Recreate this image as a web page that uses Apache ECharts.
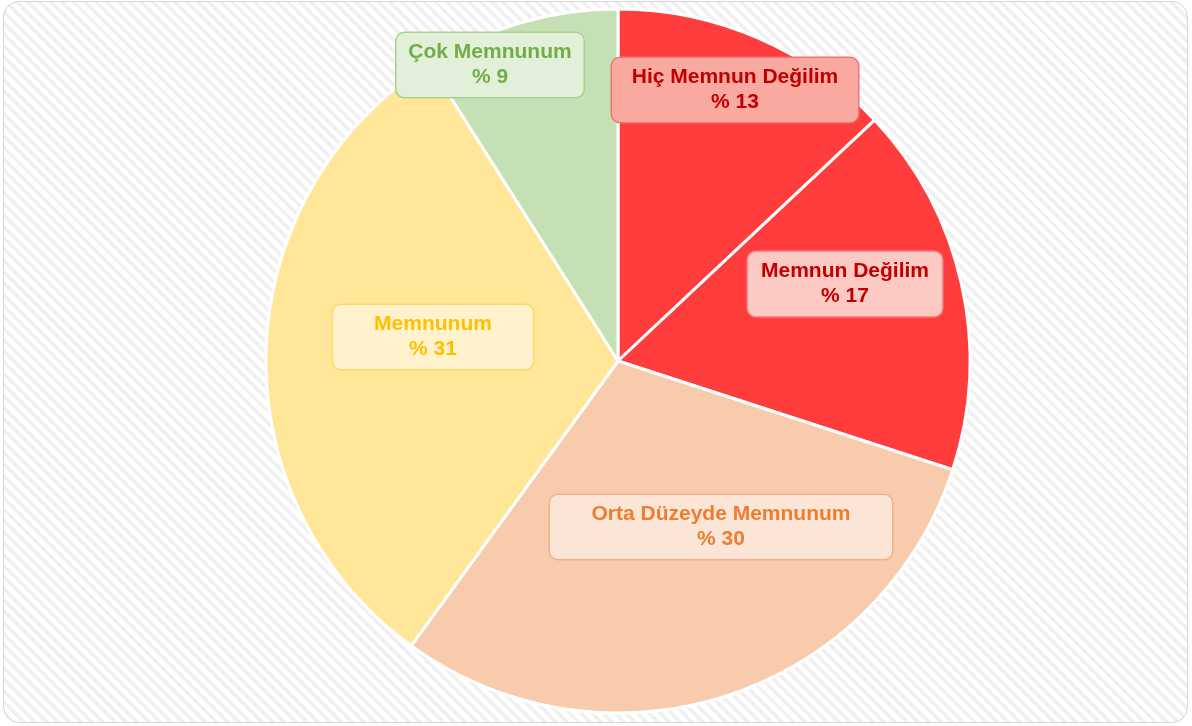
<!DOCTYPE html>
<html>
<head>
<meta charset="utf-8">
<script src="https://cdn.jsdelivr.net/npm/echarts@6/dist/echarts.min.js"></script>
<style>
  html, body { margin: 0; padding: 0; background: #fff; }
  #frame {
    position: absolute; left: 3px; top: 1px; width: 1183px; height: 720px;
    border: 1.5px solid #d6d6d6; border-radius: 16px;
    background: repeating-linear-gradient(45deg, #ffffff 0px, #ffffff 4.5px, #f0f0f0 4.5px, #f0f0f0 8px);
  }
  #chart { position: absolute; left: 0; top: 0; width: 1192px; height: 726px; }
</style>
</head>
<body>
<div id="frame"></div>
<div id="chart"></div>
<script>
// kategoriler ve yüzdeler
const categories = ['Hiç Memnun Değilim', 'Memnun Değilim', 'Orta Düzeyde Memnunum', 'Memnunum', 'Çok Memnunum'];
const values = [13, 17, 30, 31, 9];

// dilim ve etiket renkleri
const sliceColors = ['#ff3d3d', '#ff3d3d', '#f8cbad', '#ffe699', '#c5e0b4'];
const labelBg = ['#f9a99f', '#fcc9c3', '#fbe5d6', '#fff2cc', '#e2f0d9'];
const labelBorder = ['#f27373', '#f58c8c', '#f4b183', '#ffd966', '#a9d18e'];
const labelText = ['#c00000', '#c00000', '#ed7d31', '#ffc000', '#70ad47'];
const labelWidth = [226, 174, 322, 180, 167];
// etiket kutularının merkezleri
const labelPos = [[735, 90], [845, 284], [721, 527], [433, 337], [490, 65]];

let myChart = echarts.init(document.getElementById('chart'));

myChart.setOption({
  animation: false,
  series: [{
    type: 'pie',
    center: [618, 361],
    radius: 352,
    startAngle: 90,
    clockwise: true,
    itemStyle: { borderColor: '#ffffff', borderWidth: 3 },
    label: {
      show: true,
      position: 'inside',
      formatter: '{b}\n% {c}',
      fontFamily: 'Liberation Sans, Arial, sans-serif',
      fontWeight: 'bold',
      fontSize: 21,
      lineHeight: 25,
      align: 'center',
      borderWidth: 1.5,
      borderRadius: 8,
      padding: [7, 10]
    },
    labelLine: { show: false },
    labelLayout: function (params) {
      let p = labelPos[params.dataIndex];
      return { x: p[0], y: p[1], align: 'center', verticalAlign: 'middle' };
    },
    data: categories.map(function (name, i) {
      return {
        name: name,
        value: values[i],
        itemStyle: { color: sliceColors[i] },
        label: {
          color: labelText[i],
          backgroundColor: labelBg[i],
          borderColor: labelBorder[i],
          width: labelWidth[i]
        }
      };
    })
  }]
});
</script>
</body>
</html>
